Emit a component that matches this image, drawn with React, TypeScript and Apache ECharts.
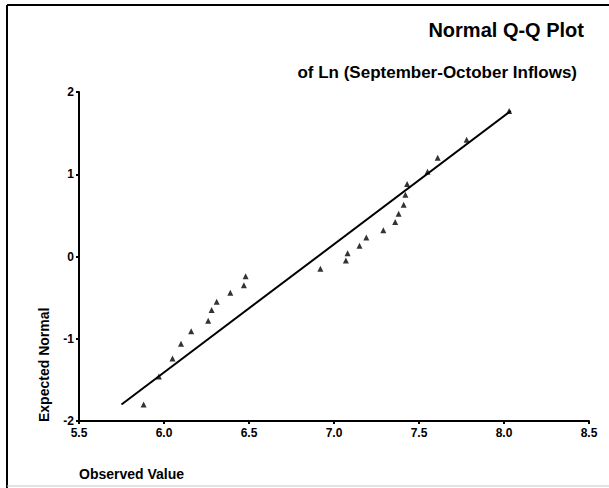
import React, { useEffect, useRef } from "react";
import * as echarts from "echarts";

const observed = [5.88, 5.97, 6.05, 6.10, 6.16, 6.26, 6.28, 6.31, 6.39, 6.47, 6.48, 6.92, 7.07, 7.08, 7.15, 7.19, 7.29, 7.36, 7.38, 7.41, 7.42, 7.43, 7.55, 7.61, 7.78, 8.03];
const expected = [-1.80, -1.46, -1.24, -1.06, -0.91, -0.78, -0.65, -0.55, -0.44, -0.35, -0.24, -0.15, -0.05, 0.04, 0.13, 0.23, 0.32, 0.42, 0.52, 0.63, 0.75, 0.88, 1.03, 1.20, 1.42, 1.77];
const lineX = [5.75, 8.04];
const lineY = [-1.80, 1.77];

const FONT = "'Liberation Sans', Arial, sans-serif";

export default function App() {
  const ref = useRef<HTMLDivElement>(null);
  useEffect(() => {
    if (!ref.current) return;
    const chart = echarts.init(ref.current, null, { renderer: "svg" });
    chart.setOption({
      animation: false,
      backgroundColor: "#ffffff",
      grid: { left: 79, right: 20, top: 92, bottom: 67, containLabel: false },
      xAxis: {
        type: "value",
        min: 5.5,
        max: 8.5,
        interval: 0.5,
        axisLine: { show: true, onZero: false, lineStyle: { color: "#000", width: 2 } },
        axisTick: { show: true, length: 3, inside: false, lineStyle: { color: "#000", width: 2 } },
        splitLine: { show: false },
        axisLabel: {
          color: "#000",
          fontFamily: FONT,
          fontWeight: "bold",
          fontSize: 12,
          margin: 6,
          formatter: (v: number) => v.toFixed(1),
        },
      },
      yAxis: {
        type: "value",
        min: -2,
        max: 2,
        interval: 1,
        axisLine: { show: true, onZero: false, lineStyle: { color: "#000", width: 2 } },
        axisTick: { show: true, length: 3, lineStyle: { color: "#000", width: 2 } },
        splitLine: { show: false },
        axisLabel: {
          color: "#000",
          fontFamily: FONT,
          fontWeight: "bold",
          fontSize: 12,
          margin: 5,
        },
      },
      series: [
        {
          type: "line",
          data: lineX.map((x, i) => [x, lineY[i]]),
          symbol: "none",
          lineStyle: { color: "#000", width: 2 },
          silent: true,
        },
        {
          type: "scatter",
          data: observed.map((x, i) => [x, expected[i]]),
          symbol: "triangle",
          symbolSize: 6,
          itemStyle: { color: "#000" },
        },
      ],
      graphic: [
        { type: "line", shape: { x1: 7, y1: 5, x2: 609, y2: 5 }, style: { stroke: "#000", lineWidth: 2 } },
        { type: "line", shape: { x1: 7, y1: 5, x2: 7, y2: 488 }, style: { stroke: "#000", lineWidth: 2 } },
        { type: "line", shape: { x1: 7, y1: 486, x2: 609, y2: 486 }, style: { stroke: "#c8c8c8", lineWidth: 1 } },
        {
          type: "text",
          x: 584,
          y: 30,
          style: {
            text: "Normal Q-Q Plot",
            fill: "#000",
            font: `bold 20px ${FONT}`,
            textAlign: "right",
            textVerticalAlign: "middle",
          },
        },
        {
          type: "text",
          x: 577,
          y: 72,
          style: {
            text: "of Ln (September-October Inflows)",
            fill: "#000",
            font: `bold 17px ${FONT}`,
            textAlign: "right",
            textVerticalAlign: "middle",
          },
        },
        {
          type: "text",
          x: 79,
          y: 474,
          style: {
            text: "Observed Value",
            fill: "#000",
            font: `bold 14px ${FONT}`,
            textAlign: "left",
            textVerticalAlign: "middle",
          },
        },
        {
          type: "text",
          x: 44,
          y: 422,
          rotation: Math.PI / 2,
          style: {
            text: "Expected Normal",
            fill: "#000",
            font: `bold 14px ${FONT}`,
            textAlign: "left",
            textVerticalAlign: "middle",
          },
        },
      ],
    });
    return () => chart.dispose();
  }, []);
  return (
    <div
      ref={ref}
      style={{ position: "fixed", left: 0, top: 0, width: 609, height: 488 }}
    />
  );
}
